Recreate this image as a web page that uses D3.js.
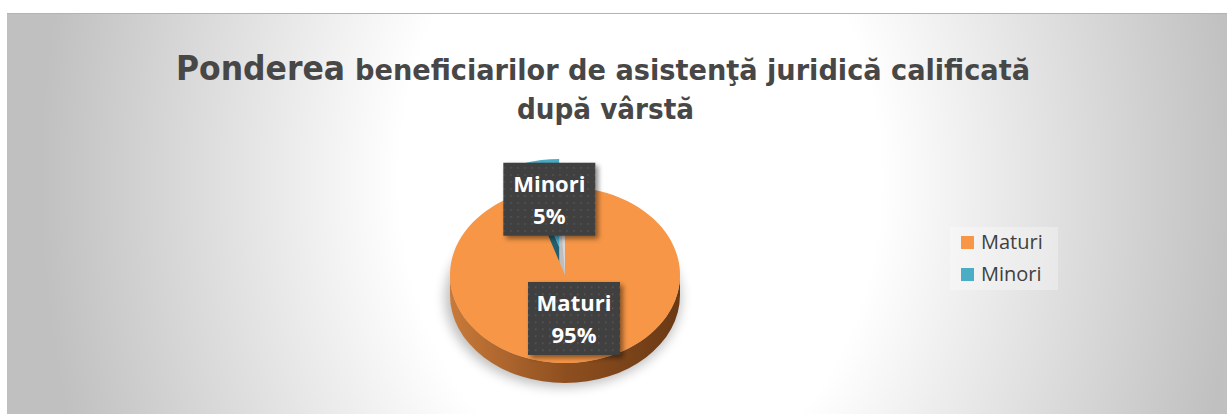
<!DOCTYPE html>
<html lang="ro">
<head>
<meta charset="UTF-8">
<title>Ponderea beneficiarilor după vârstă</title>
<script src="https://d3js.org/d3.v7.min.js"></script>
<style>
  body { margin: 0; background: #fff; }
  .title { font-family: "Liberation Sans Narrow", "DejaVu Sans Condensed", "Open Sans", sans-serif; font-weight: bold; fill: #474747; }
  .lbl { font-family: "Open Sans", sans-serif; font-weight: bold; fill: #fff; font-size: 22px; }
  .leg { font-family: "Open Sans", sans-serif; fill: #404040; font-size: 20px; }
</style>
</head>
<body>
<div id="chart"></div>
<script>
const categories = ["Maturi", "Minori"];
const values = [95, 5];
const colors = ["#f79646", "#4bacc6"];
const labels = ["95%", "5%"];

const width = 1227, height = 414;
const cx = 565, cy = 275, rx = 115, ry = 88, depth = 20;
const k = ry / rx;

const svg = d3.select("#chart").append("svg")
    .attr("width", width).attr("height", height);

const defs = svg.append("defs");

const bg = defs.append("radialGradient").attr("id", "bg")
    .attr("gradientUnits", "userSpaceOnUse")
    .attr("cx", 640).attr("cy", 180).attr("r", 600)
    .attr("gradientTransform", "translate(640,180) scale(1,1.3) translate(-640,-180)");
bg.append("stop").attr("offset", 0).attr("stop-color", "#ffffff");
bg.append("stop").attr("offset", 0.4).attr("stop-color", "#ffffff");
bg.append("stop").attr("offset", 1).attr("stop-color", "#c0c0c0");

const side = defs.append("linearGradient").attr("id", "side")
    .attr("x1", 0).attr("x2", 1).attr("y1", 0).attr("y2", 0);
side.append("stop").attr("offset", 0).attr("stop-color", "#c97a3a");
side.append("stop").attr("offset", 0.5).attr("stop-color", "#8e4f1f");
side.append("stop").attr("offset", 1).attr("stop-color", "#6a3915");

const dots = defs.append("pattern").attr("id", "dots")
    .attr("patternUnits", "userSpaceOnUse").attr("width", 7).attr("height", 7);
dots.append("rect").attr("width", 7).attr("height", 7).attr("fill", "#3f3f3f");
dots.append("rect").attr("x", 3).attr("y", 3).attr("width", 1.5).attr("height", 1.5).attr("fill", "#5a5a5a");

const blur = defs.append("filter").attr("id", "blur")
    .attr("x", "-20%").attr("y", "-20%").attr("width", "140%").attr("height", "140%");
blur.append("feGaussianBlur").attr("stdDeviation", 6);

const drop = defs.append("filter").attr("id", "drop")
    .attr("x", "-20%").attr("y", "-20%").attr("width", "150%").attr("height", "150%");
drop.append("feDropShadow").attr("dx", 3).attr("dy", 3).attr("stdDeviation", 2.5)
    .attr("flood-color", "#000").attr("flood-opacity", 0.45);

// chart area
svg.append("rect").attr("x", 7).attr("y", 13).attr("width", width - 7).attr("height", height - 13)
    .attr("fill", "url(#bg)");
svg.append("line").attr("x1", 7).attr("x2", width).attr("y1", 13.5).attr("y2", 13.5)
    .attr("stroke", "#b3b3b3");

// title
const t1 = svg.append("text").attr("class", "title").attr("y", 80);
t1.append("tspan").attr("x", 176).style("font-size", "33px").text("Ponderea")
    .attr("textLength", 169).attr("lengthAdjust", "spacingAndGlyphs");
t1.append("tspan").attr("x", 355).style("font-size", "29px")
    .text("beneficiarilor de asistenţă juridică calificată")
    .attr("textLength", 675).attr("lengthAdjust", "spacingAndGlyphs");
svg.append("text").attr("class", "title").attr("x", 517).attr("y", 119)
    .style("font-size", "29px").text("după vârstă")
    .attr("textLength", 177).attr("lengthAdjust", "spacingAndGlyphs");

// pie
const pie = d3.pie().sort(null).value(d => d);
const arcs = pie(values);
const arc = d3.arc().innerRadius(0).outerRadius(rx);
const proj = (a, r) => [r * Math.sin(a), -r * Math.cos(a) * k];

// shadow
svg.append("ellipse").attr("cx", cx - 2).attr("cy", cy + depth + 3)
    .attr("rx", rx + 3).attr("ry", ry + 1)
    .attr("fill", "#000").attr("opacity", 0.25).attr("filter", "url(#blur)");

// Minori, exploded at the back
const mi = arcs[1];
const mid = (mi.startAngle + mi.endAngle) / 2;
const explode = 37;
const [ox, oy] = proj(mid, explode);
const tip = [cx + ox, cy + oy];
const [sx, sy] = proj(mi.startAngle, rx);
svg.append("path")
    .attr("d", `M${tip[0]},${tip[1]} L${tip[0] + sx},${tip[1] + sy} L${tip[0] + sx},${tip[1] + sy + depth} L${tip[0]},${tip[1] + depth} Z`)
    .attr("fill", "#235f70");
svg.append("g").attr("transform", `translate(${tip[0]},${tip[1]}) scale(1,${k})`)
    .append("path").attr("d", arc(mi)).attr("fill", colors[1]);

// light strip in the gap
svg.append("path")
    .attr("d", `M${cx},${cy} L${cx},${cy - ry} L${cx - 7},${cy - ry} Z`)
    .attr("fill", "#d6d6d6");

// Maturi side and top
svg.append("path")
    .attr("d", `M${cx + rx},${cy} A${rx},${ry} 0 0 1 ${cx - rx},${cy} L${cx - rx},${cy + depth} A${rx},${ry} 0 0 0 ${cx + rx},${cy + depth} Z`)
    .attr("fill", "url(#side)");
svg.append("g").attr("transform", `translate(${cx},${cy}) scale(1,${k})`)
    .append("path").attr("d", arc(arcs[0])).attr("fill", colors[0]);

// data labels
const boxW = 92, boxH = 73;
const labelPos = [
    (() => { const a = (arcs[0].startAngle + arcs[0].endAngle) / 2; const p = proj(a, rx * 0.5); return [cx + p[0], cy + p[1]]; })(),
    (() => { const p = proj(mid, rx * 0.55); return [tip[0] + p[0], tip[1] + p[1]]; })()
];
categories.forEach((c, i) => {
    const [lx, ly] = labelPos[i];
    const g = svg.append("g").attr("transform", `translate(${lx},${ly})`);
    g.append("rect").attr("x", -boxW / 2).attr("y", -boxH / 2)
        .attr("width", boxW).attr("height", boxH)
        .attr("fill", "url(#dots)").attr("filter", "url(#drop)");
    g.append("text").attr("class", "lbl").attr("text-anchor", "middle").attr("y", -7).text(c);
    g.append("text").attr("class", "lbl").attr("text-anchor", "middle").attr("y", 25).text(labels[i]);
});

// legend
const leg = svg.append("g").attr("transform", "translate(961,236)");
leg.append("rect").attr("x", -11).attr("y", -9).attr("width", 108).attr("height", 63)
    .attr("fill", "#fff").attr("opacity", 0.3);
const y = d3.scaleBand().domain(categories).range([0, 64]);
categories.forEach((c, i) => {
    leg.append("rect").attr("x", 0).attr("y", y(c)).attr("width", 13).attr("height", 13).attr("fill", colors[i]);
    leg.append("text").attr("class", "leg").attr("x", 20).attr("y", y(c) + 13).text(c);
});
</script>
</body>
</html>
